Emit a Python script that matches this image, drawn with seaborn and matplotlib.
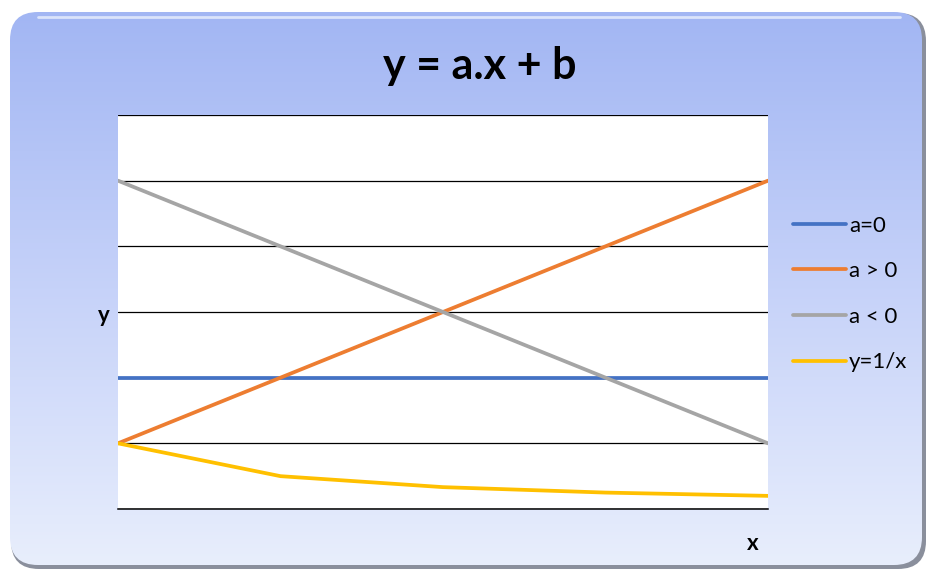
import numpy as np
import pandas as pd
import matplotlib
matplotlib.use("Agg")
import matplotlib.pyplot as plt
from matplotlib.patches import FancyBboxPatch
import seaborn as sns

# data
x_vals = [1, 2, 3, 4, 5]
a_zero = [2, 2, 2, 2, 2]
a_pos = [1, 2, 3, 4, 5]
a_neg = [5, 4, 3, 2, 1]
inv_x = [1, 0.5, 0.333, 0.25, 0.2]
series_names = ["a=0", "a > 0", "a < 0", "y=1/x"]
colors = ["#4472C4", "#ED7D31", "#A5A5A5", "#FFC000"]

df = pd.DataFrame({
    "x": x_vals * 4,
    "y": a_zero + a_pos + a_neg + inv_x,
    "serie": sum([[n] * len(x_vals) for n in series_names], []),
})

sns.set_theme(style="white")
plt.rcParams["font.family"] = ["Lato", "DejaVu Sans"]
plt.rcParams["text.color"] = "black"

W, H = 927, 572
fig = plt.figure(figsize=(W / 100, H / 100), dpi=100)
fig.patch.set_facecolor("white")

# background: rounded box with vertical gradient
bg = fig.add_axes([0, 0, 1, 1], zorder=-1)
bg.axis("off")
shadow = FancyBboxPatch((11, 13), 915, 556, boxstyle="round,pad=0,rounding_size=28",
                        facecolor="#8a8f9c", edgecolor="none", zorder=1)
bg.add_patch(shadow)
box = FancyBboxPatch((10, 12), 912, 553, boxstyle="round,pad=0,rounding_size=28",
                     facecolor="none", edgecolor="none", zorder=2)
bg.add_patch(box)
grad = np.linspace(0, 1, 256).reshape(-1, 1)
cmap = matplotlib.colors.LinearSegmentedColormap.from_list("bg", ["#A2B6F3", "#C6D2F9", "#E8EEFC"])
im = bg.imshow(grad, cmap=cmap, extent=(10, 922, 565, 12), aspect="auto", zorder=3)
im.set_clip_path(box)
bg.plot([38, 900], [17, 17], color="#dbe4fb", lw=2, solid_capstyle="round", zorder=4)
bg.set_xlim(0, W)
bg.set_ylim(H, 0)

# main plot area
ax = fig.add_axes([118 / W, 1 - 509 / H, (768 - 118) / W, (509 - 115) / H])
ax.set_facecolor("white")
sns.lineplot(data=df, x="x", y="y", hue="serie", palette=colors,
             hue_order=series_names, linewidth=2.7, ax=ax, legend=True)
ax.set_xlim(1, 5)
ax.set_ylim(0, 6)
ax.set_yticks(range(0, 7))
ax.set_xticks([])
ax.set_yticklabels([])
ax.grid(axis="y", color="black", linewidth=0.9)
ax.tick_params(left=False, bottom=False)
for s in ax.spines.values():
    s.set_visible(False)
ax.spines["bottom"].set_visible(True)
ax.spines["bottom"].set_color("black")
ax.spines["bottom"].set_linewidth(1.1)
ax.set_xlabel("")
ax.set_ylabel("")

handles, labels = ax.get_legend_handles_labels()
ax.get_legend().remove()
for h in handles:
    h.set_linewidth(2.7)
fig.legend(handles, labels, loc="center left", bbox_to_anchor=(773 / W, 1 - 294 / H),
           frameon=False, fontsize=16, handlelength=2.4, handletextpad=0.12,
           labelspacing=1.15)

fig.text(480 / W, 1 - 66 / H, "y = a.x + b", ha="center", va="center",
         fontsize=31, fontweight="bold")
fig.text(104 / W, 1 - 315 / H, "y", ha="center", va="center", fontsize=16, fontweight="bold")
fig.text(753 / W, 1 - 544 / H, "x", ha="center", va="center", fontsize=16, fontweight="bold")

fig.savefig("out.png", dpi=100)
